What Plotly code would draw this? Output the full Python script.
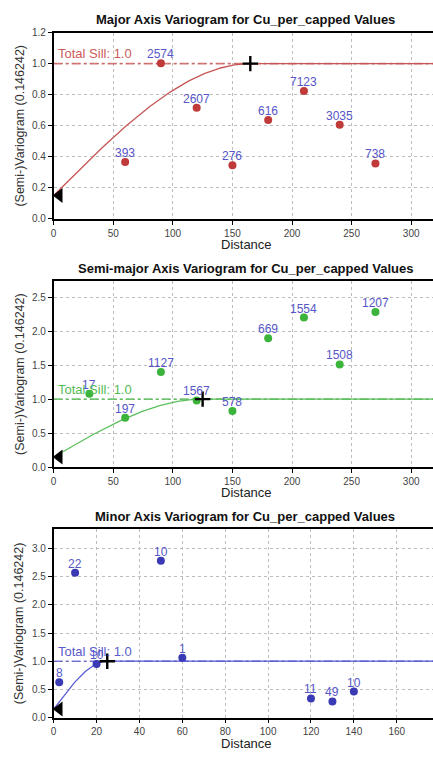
import numpy as np
import plotly.graph_objects as go

# ---- experimental variogram points (lag distance, semivariance, pair count) ----
major_lags = [60, 90, 120, 150, 180, 210, 240, 270]
major_gamma = [0.367, 1.002, 0.716, 0.345, 0.637, 0.823, 0.606, 0.357]
major_pairs = [393, 2574, 2607, 276, 616, 7123, 3035, 738]

semi_lags = [30, 60, 90, 120, 150, 180, 210, 240, 270]
semi_gamma = [1.078, 0.726, 1.40, 0.981, 0.827, 1.895, 2.198, 1.51, 2.28]
semi_pairs = [17, 197, 1127, 1567, 578, 669, 1554, 1508, 1207]

minor_lags = [2.6, 10, 20, 50, 60, 120, 130, 140]
minor_gamma = [0.624, 2.57, 0.95, 2.785, 1.06, 0.338, 0.285, 0.46]
minor_pairs = [8, 22, 10, 10, 1, 11, 49, 10]

# ---- spherical model parameters ----
nugget = 0.15
total_sill = 1.0
major_range = 165
semi_range = 125
minor_range = 25
nugget_marker_lag = [4.7, 4.7, 2.6]

titles = [
    "Major Axis Variogram for Cu_per_capped Values",
    "Semi-major Axis Variogram for Cu_per_capped Values",
    "Minor Axis Variogram for Cu_per_capped Values",
]
y_title = "(Semi-)Variogram (0.146242)"

FONT = "Liberation Sans, Arial, sans-serif"
W, H = 433, 758
LABEL_COLOR = "#5656c8"

# pixel boxes of the three plot areas (top, bottom)
boxes = [(28, 217), (280, 469), (532, 723)]
x_left = 51
x_max = [318.3, 318.3, 176.9]
y_max = [1.2, 2.736, 3.342]
x_dtick = [50, 50, 20]
y_dtick = [0.2, 0.5, 0.5]
ranges = [major_range, semi_range, minor_range]
dot_colors = ["#c03a3a", "#3cb43c", "#3a3ab4"]
line_colors = ["#c65656", "#5cc05c", "#5a5ad2"]
sill_colors = ["#cc5a5a", "#55bb55", "#5a5acc"]
series = [
    (major_lags, major_gamma, major_pairs),
    (semi_lags, semi_gamma, semi_pairs),
    (minor_lags, minor_gamma, minor_pairs),
]


def spherical(h, c0, sill, a):
    h = np.asarray(h, dtype=float)
    c = sill - c0
    r = np.clip(h / a, 0, 1)
    return c0 + c * (1.5 * r - 0.5 * r ** 3)


fig = go.Figure()
annotations = []
layout_axes = {}

for i in range(3):
    xa = "x" if i == 0 else f"x{i + 1}"
    ya = "y" if i == 0 else f"y{i + 1}"
    lags, gamma, pairs = series[i]
    a = ranges[i]

    # sill reference line
    fig.add_trace(go.Scatter(
        x=[0, x_max[i] * 1.05], y=[total_sill, total_sill], mode="lines",
        line=dict(color=sill_colors[i], width=1.6, dash="dashdot"),
        opacity=0.8, xaxis=xa, yaxis=ya, showlegend=False, hoverinfo="skip"))

    # model curve
    h = np.linspace(0, x_max[i] * 1.05, 400)
    fig.add_trace(go.Scatter(
        x=h, y=spherical(h, nugget, total_sill, a), mode="lines",
        line=dict(color=line_colors[i], width=1.3),
        xaxis=xa, yaxis=ya, showlegend=False, hoverinfo="skip"))

    # experimental points
    fig.add_trace(go.Scatter(
        x=lags, y=gamma, mode="markers",
        marker=dict(color=dot_colors[i], size=8),
        xaxis=xa, yaxis=ya, showlegend=False, cliponaxis=False))

    # pair counts above each point
    for lx, gy, p in zip(lags, gamma, pairs):
        annotations.append(dict(
            text=str(p), xref=xa, yref=ya, x=lx, y=gy, yshift=9,
            xanchor="center", yanchor="middle", showarrow=False,
            font=dict(family=FONT, size=12, color=LABEL_COLOR)))

    # range marker
    fig.add_trace(go.Scatter(
        x=[a], y=[total_sill], mode="markers",
        marker=dict(symbol="cross-thin", size=11, color="black",
                    line=dict(color="black", width=2.4)),
        xaxis=xa, yaxis=ya, showlegend=False, cliponaxis=False))

    # nugget marker
    fig.add_trace(go.Scatter(
        x=[nugget_marker_lag[i]], y=[nugget], mode="markers",
        marker=dict(symbol="triangle-left", size=13, color="black"),
        xaxis=xa, yaxis=ya, showlegend=False, cliponaxis=False))

    top, bot = boxes[i]
    dom_y = [1 - bot / H, 1 - top / H]
    axis_common = dict(
        showline=True, linecolor="black", linewidth=1.5,
        ticks="outside", ticklen=4, tickwidth=1, tickcolor="black",
        showgrid=True, gridcolor="#bdbdbd", griddash="dot", gridwidth=1,
        zeroline=False,
        tickfont=dict(family=FONT, size=10, color="#444444"),
    )
    layout_axes["xaxis" if i == 0 else f"xaxis{i + 1}"] = dict(
        axis_common, domain=[x_left / W, 1], range=[0, x_max[i]],
        dtick=x_dtick[i], tick0=0, mirror=True,
        anchor=ya)
    layout_axes["yaxis" if i == 0 else f"yaxis{i + 1}"] = dict(
        axis_common, domain=dom_y, range=[0, y_max[i]],
        dtick=y_dtick[i], tick0=0, tickformat=".1f", anchor=xa)

    # title
    annotations.append(dict(
        text=f"<b>{titles[i]}</b>", xref="paper", yref="paper",
        x=244 / W, y=1 - (top - 13) / H, xanchor="center", yanchor="middle",
        showarrow=False, font=dict(family=FONT, size=13, color="#111111")))
    # x axis title
    annotations.append(dict(
        text="Distance", xref="paper", yref="paper",
        x=245 / W, y=1 - (bot + 26) / H, xanchor="center", yanchor="middle",
        showarrow=False, font=dict(family=FONT, size=13, color="#222222")))
    # y axis title
    annotations.append(dict(
        text=y_title, xref="paper", yref="paper", textangle=-90,
        x=17 / W, y=1 - ((top + bot) / 2) / H, xanchor="center",
        yanchor="middle", showarrow=False,
        font=dict(family=FONT, size=12.5, color="#333333")))
    # sill label
    annotations.append(dict(
        text=f"Total Sill: {total_sill}", xref=xa, yref=ya,
        x=0, y=total_sill, xanchor="left", xshift=2,
        yanchor="middle", yshift=10, showarrow=False,
        font=dict(family=FONT, size=13, color=sill_colors[i])))

fig.update_layout(
    width=W, height=H,
    margin=dict(l=0, r=0, t=0, b=0),
    paper_bgcolor="white", plot_bgcolor="white",
    annotations=annotations,
    **layout_axes,
)

fig.write_html("out.html")
